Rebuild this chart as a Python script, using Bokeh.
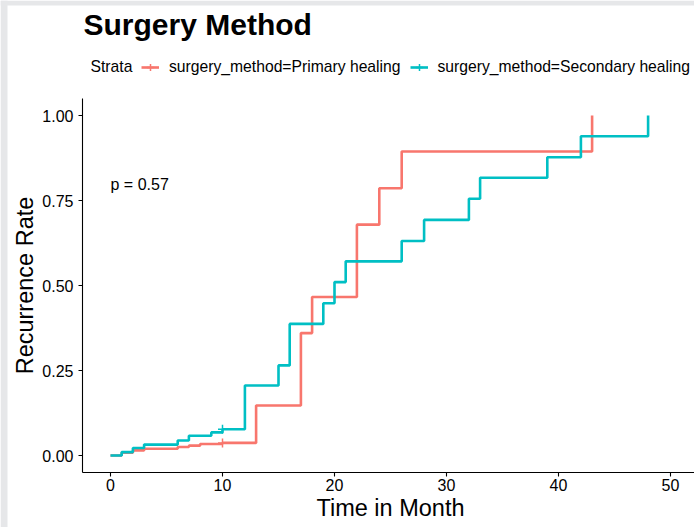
import math
from bokeh.plotting import figure
from bokeh.models import (Range1d, FixedTicker, NumeralTickFormatter, Label, Legend,
                          LegendItem, BoxAnnotation)
from bokeh.embed import file_html
from bokeh.resources import INLINE

# ---- data ----
primary_time = [0, 1, 2, 3, 6, 7, 8, 10, 13, 17, 18, 22, 24, 26, 43]
primary_rate = [0.0, 0.008, 0.015, 0.020, 0.025, 0.029, 0.034, 0.037, 0.147,
                0.360, 0.466, 0.679, 0.786, 0.894, 1.0]
secondary_time = [0, 1, 2, 3, 6, 7, 9, 10, 12, 15, 16, 19, 20, 21, 26, 28, 32,
                  33, 39, 42, 48]
secondary_rate = [0.0, 0.010, 0.022, 0.032, 0.044, 0.058, 0.068, 0.077, 0.206,
                  0.265, 0.387, 0.448, 0.510, 0.571, 0.631, 0.693, 0.755,
                  0.817, 0.877, 0.939, 1.0]
primary_censor_time = [10]
primary_censor_rate = [0.037]
secondary_censor_time = [10]
secondary_censor_rate = [0.077]
x_ticks = [0, 10, 20, 30, 40, 50]
y_ticks = [0.0, 0.25, 0.50, 0.75, 1.0]
strata_labels = ["surgery_method=Primary healing", "surgery_method=Secondary healing"]
p_value_text = "p = 0.57"
p_value_pos = (0, 0.7956)

RED = "#F8766D"
CYAN = "#00BFC4"
FONT = "Liberation Sans"
W, H = 694, 527

# panel limits (ggplot-style expansion) and the full canvas extent in data units
X_LO, X_HI = -2.5, 52.14
Y_LO, Y_HI = -0.05, 1.05
PX_PER_X, PX_PER_Y = 11.2, 340.0
X0_PX, Y0_PX = 110, 455          # pixel position of t=0 / rate=0

p = figure(width=W, height=H, output_backend="svg", toolbar_location=None,
           x_range=Range1d(-X0_PX / PX_PER_X, (W - X0_PX) / PX_PER_X),
           y_range=Range1d(-(H - Y0_PX) / PX_PER_Y, Y0_PX / PX_PER_Y),
           min_border_left=0, min_border_right=0, min_border_top=0,
           min_border_bottom=0)
p.outline_line_color = None
p.xgrid.visible = False
p.ygrid.visible = False
p.background_fill_color = "white"
p.border_fill_color = "white"

# light grey frame strips (top / left) seen in the reference screenshot
p.add_layout(BoxAnnotation(left=0, right=W, bottom=H - 5, top=H, left_units="screen",
                           right_units="screen", bottom_units="screen", top_units="screen",
                           fill_color="#e6e7e9", fill_alpha=1, line_alpha=0))
p.add_layout(BoxAnnotation(left=0, right=7, bottom=0, top=H, left_units="screen",
                           right_units="screen", bottom_units="screen", top_units="screen",
                           fill_color="#e6e7e9", fill_alpha=1, line_alpha=0))

r1 = p.step(primary_time, primary_rate, mode="after", line_width=2.6, line_color=RED)
r2 = p.step(secondary_time, secondary_rate, mode="after", line_width=2.6, line_color=CYAN)
c1 = p.scatter(primary_censor_time, primary_censor_rate, marker="cross", size=9,
               line_width=1.5, line_color=RED)
c2 = p.scatter(secondary_censor_time, secondary_censor_rate, marker="cross", size=9,
               line_width=1.5, line_color=CYAN)

for ax in (p.xaxis[0], p.yaxis[0]):
    ax.minor_tick_line_color = None
    ax.major_tick_in = 0
    ax.major_tick_out = 4
    ax.major_tick_line_width = 1.1
    ax.axis_line_width = 1.1
    ax.major_label_text_font = FONT
    ax.major_label_text_font_size = "16px"
    ax.major_label_text_color = "black"

p.xaxis.fixed_location = Y_LO
p.yaxis.fixed_location = X_LO
p.xaxis.bounds = (X_LO, X_HI)
p.yaxis.bounds = (Y_LO, Y_HI)
p.xaxis.ticker = FixedTicker(ticks=x_ticks)
p.yaxis.ticker = FixedTicker(ticks=y_ticks)
p.yaxis.formatter = NumeralTickFormatter(format="0.00")
p.xaxis.major_label_standoff = 2
p.yaxis.major_label_standoff = 5


def screen_label(text, x, y, size, bold=False, align="left", angle=0.0):
    return Label(x=x, y=y, x_units="screen", y_units="screen", text=text,
                 text_font=FONT, text_font_size=size,
                 text_font_style="bold" if bold else "normal", text_color="black",
                 text_align=align, text_baseline="middle", angle=angle)


# title, legend title, axis titles (y measured from the bottom edge)
p.add_layout(screen_label("Surgery Method", 83, H - 23.9, "30px", bold=True))
p.add_layout(screen_label("Strata", 90, H - 66.3, "15.7px"))
p.add_layout(screen_label("Time in Month", 390, H - 507.9, "23.5px", align="center"))
p.add_layout(screen_label("Recurrence Rate", 24.5, H - 285, "23.5px", align="center",
                          angle=math.pi / 2))
# p value
p.add_layout(Label(x=p_value_pos[0], y=p_value_pos[1], text=p_value_text, text_font=FONT,
                   text_font_size="16px", text_color="black", text_baseline="middle"))

legend = Legend(items=[LegendItem(label=strata_labels[0], renderers=[r1, c1]),
                       LegendItem(label=strata_labels[1], renderers=[r2, c2])],
                location=(141, H - 77), orientation="horizontal",
                glyph_width=18, glyph_height=20, label_standoff=10, spacing=9,
                padding=0, margin=0, border_line_alpha=0, background_fill_alpha=0,
                label_text_font=FONT, label_text_font_size="15.7px",
                label_text_color="black")
p.add_layout(legend, "center")

open("out.html", "w").write(file_html(p, INLINE))
